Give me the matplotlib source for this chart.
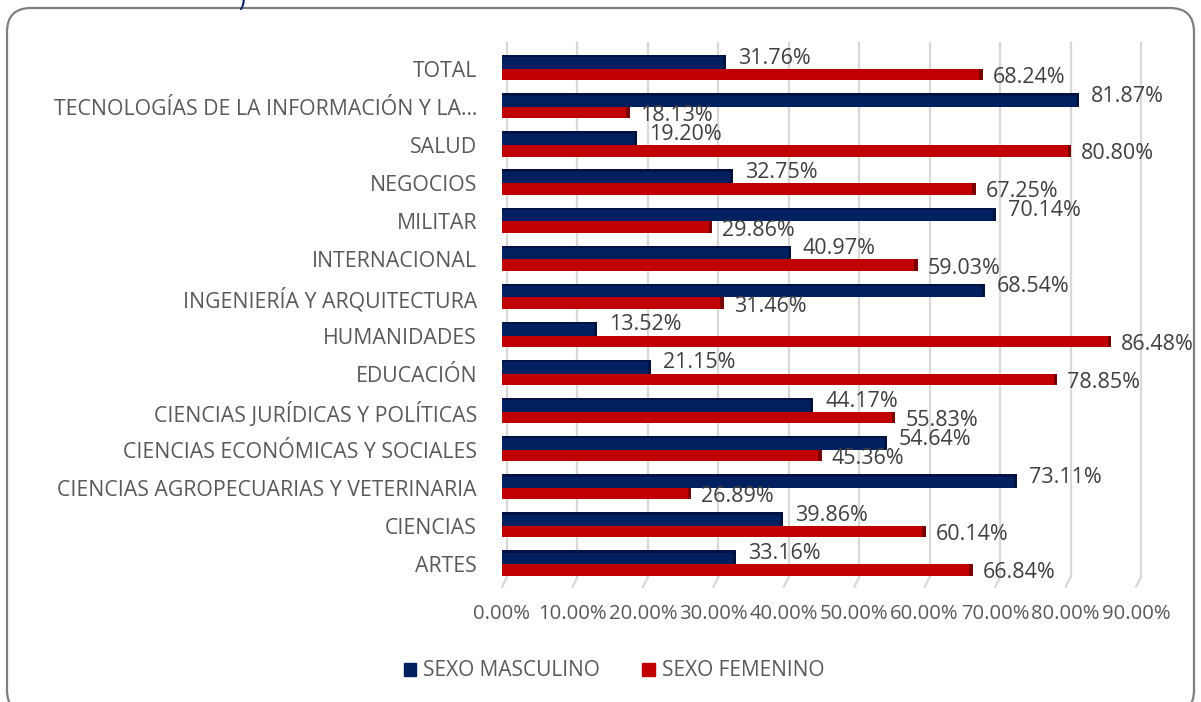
import numpy as np
import matplotlib
matplotlib.use("Agg")
import matplotlib.pyplot as plt
from matplotlib.patches import FancyBboxPatch, Patch
import matplotlib.transforms as mtransforms

# datos (de arriba hacia abajo, como en la imagen)
categorias = ["TOTAL", "TECNOLOGÍAS DE LA INFORMACIÓN Y LA…", "SALUD", "NEGOCIOS",
              "MILITAR", "INTERNACIONAL", "INGENIERÍA Y ARQUITECTURA", "HUMANIDADES",
              "EDUCACIÓN", "CIENCIAS JURÍDICAS Y POLÍTICAS",
              "CIENCIAS ECONÓMICAS Y SOCIALES", "CIENCIAS AGROPECUARIAS Y VETERINARIA",
              "CIENCIAS", "ARTES"]
masculino = [31.76, 81.87, 19.20, 32.75, 70.14, 40.97, 68.54, 13.52, 21.15, 44.17,
             54.64, 73.11, 39.86, 33.16]
femenino = [68.24, 18.13, 80.80, 67.25, 29.86, 59.03, 31.46, 86.48, 78.85, 55.83,
            45.36, 26.89, 60.14, 66.84]
ticks_x = [0, 10, 20, 30, 40, 50, 60, 70, 80, 90]
series = ["SEXO MASCULINO", "SEXO FEMENINO"]

azul = "#002060"
rojo = "#C00000"
gris = "#595959"
sans = ["Open Sans", "DejaVu Sans"]

W, H = 1201, 702
fig = plt.figure(figsize=(W / 100, H / 100), dpi=100)
ax = fig.add_axes([502 / W, 1 - 587 / H, 634 / W, 544 / H])

n = len(categorias)
y = np.arange(n)[::-1]
m = np.array(masculino) / 100
f = np.array(femenino) / 100
h = 0.30

ax.set_xlim(0, 0.9)
ax.set_ylim(-0.60, n - 1 + 0.68)

# pared del fondo (rejilla desplazada, efecto 3D)
xt = np.array(ticks_x) / 100
xtr = ax.get_xaxis_transform()
shift_b = mtransforms.offset_copy(xtr, fig=fig, x=5, y=0, units="dots")
for t in xt:
    ax.plot([t, t], [10 / 544, 1], transform=shift_b, color="#d9d9d9", lw=1.6,
            zorder=0, clip_on=False)
    ax.annotate("", xy=(t, 0), xycoords=xtr, xytext=(5, 10), textcoords="offset pixels",
                arrowprops=dict(arrowstyle="-", color="#d9d9d9", lw=1.6,
                                shrinkA=0, shrinkB=0), zorder=0)

# barras
ax.barh(y + h / 2, m, height=h, color=azul, zorder=3)
ax.barh(y - h / 2, f, height=h, color=rojo, zorder=3)
# caras laterales / superiores más oscuras
ax.barh(y + h + 0.03, m, height=0.06, color="#001244", zorder=3)
ax.barh(y + h / 2, 0.004, left=m - 0.004, height=h, color="#001240", zorder=4)
ax.barh(y - h / 2, 0.005, left=f - 0.005, height=h, color="#7a0000", zorder=4)

# etiquetas de datos
for yi, vm, vf in zip(y, m, f):
    ax.annotate(f"{vm * 100:.2f}%", xy=(vm, yi + h / 2), xytext=(12, 5),
                textcoords="offset pixels", va="center", ha="left",
                fontsize=15.5, color="#404040", family=sans, zorder=5)
    ax.annotate(f"{vf * 100:.2f}%", xy=(vf, yi - h / 2), xytext=(10, -3),
                textcoords="offset pixels", va="center", ha="left",
                fontsize=15.5, color="#404040", family=sans, zorder=5)

ax.set_yticks(y)
ax.set_yticklabels(categorias, fontsize=15.3, color=gris, family=sans)
ax.set_xticks(xt)
ax.set_xticklabels([f"{t:.2f}%" for t in ticks_x], fontsize=14.6, color=gris,
                   family=sans)
ax.tick_params(axis="y", length=0, pad=18)
ax.tick_params(axis="x", length=0, pad=12)
for s in ax.spines.values():
    s.set_visible(False)
ax.patch.set_alpha(0)

handles = [Patch(color=azul), Patch(color=rojo)]
fig.legend(handles, series, loc="center", bbox_to_anchor=(614 / W, 1 - 671 / H),
           ncol=2, frameon=False, handlelength=0.6, handleheight=0.6,
           handletextpad=0.35, columnspacing=2.0,
           prop={"family": sans, "size": 15}, labelcolor=gris)

# marco redondeado
marco = FancyBboxPatch((7, -12), 1187, 706, boxstyle="round,pad=0,rounding_size=24",
                       transform=None, fill=False, edgecolor="#7f7f7f", lw=1.6)
fig.patches.append(marco)
fig.text(242 / W, 0.998, ")", color=azul, fontsize=16, va="center", ha="center")

fig.savefig("out.png", dpi=100)
